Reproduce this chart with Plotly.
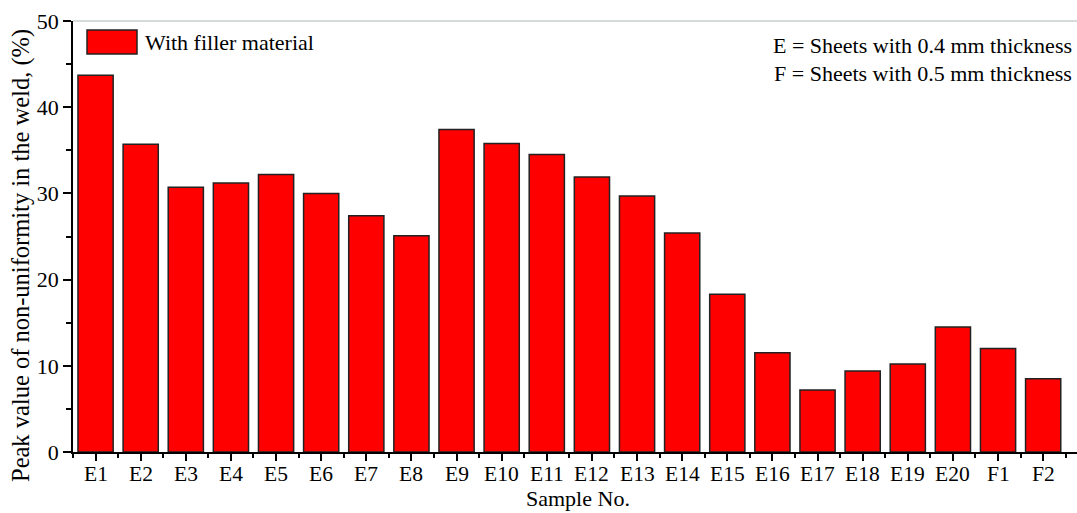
import plotly.graph_objects as go

# Samples and measured peak non-uniformity (%)
samples = ["E1", "E2", "E3", "E4", "E5", "E6", "E7", "E8", "E9", "E10", "E11",
           "E12", "E13", "E14", "E15", "E16", "E17", "E18", "E19", "E20", "F1", "F2"]
peak_values = [43.7, 35.7, 30.7, 31.2, 32.2, 30.0, 27.4, 25.1, 37.4, 35.8, 34.5,
               31.9, 29.7, 25.4, 18.3, 11.5, 7.2, 9.4, 10.2, 14.5, 12.0, 8.5]
y_ticks = [0, 10, 20, 30, 40, 50]

FONT = "Liberation Serif, Times New Roman, serif"
positions = list(range(len(samples)))

# plot area in pixels
L, R, T, B = 73, 1077, 21, 452
W, H = R - L, B - T


def px(x):
    return (x - L) / W


def py(y):
    return (B - y) / H


fig = go.Figure()
fig.add_trace(go.Bar(
    x=positions,
    y=peak_values,
    name="With filler material",
    marker=dict(color="#ff0000", line=dict(color="#222222", width=1.5)),
    width=0.78,
    showlegend=False,
))

# category labels set close under the tick marks
tick_labels = [
    dict(text=s, xref="x", yref="paper", x=p, y=py(474), xanchor="center",
         yanchor="middle", showarrow=False,
         font=dict(family=FONT, size=21.5, color="black"))
    for p, s in zip(positions, samples)
]

fig.update_layout(
    width=1077,
    height=513,
    margin=dict(l=L, r=1077 - R, t=T, b=513 - B),
    paper_bgcolor="white",
    plot_bgcolor="white",
    font=dict(family=FONT, color="black", size=22),
    xaxis=dict(
        range=[-0.5, 21.75],
        tickmode="array",
        tickvals=positions,
        showticklabels=False,
        ticks="outside",
        ticklen=7,
        tickwidth=1.5,
        tickcolor="black",
        showline=True,
        linecolor="black",
        linewidth=1.5,
        showgrid=False,
        zeroline=False,
        minor=dict(tick0=0.5, dtick=1, ticks="outside", ticklen=4,
                   tickwidth=1.5, tickcolor="black", showgrid=False),
    ),
    yaxis=dict(
        range=[0, 50],
        tickmode="array",
        tickvals=y_ticks,
        ticks="outside",
        ticklen=8,
        tickwidth=1.5,
        tickcolor="black",
        tickfont=dict(family=FONT, size=22, color="black"),
        showline=True,
        linecolor="black",
        linewidth=1.5,
        showgrid=False,
        zeroline=False,
        minor=dict(tickvals=[5, 15, 25, 35, 45], ticks="outside", ticklen=5,
                   tickwidth=1.5, tickcolor="black", showgrid=False),
    ),
    shapes=[
        # light top frame line
        dict(type="line", xref="paper", yref="paper", x0=0, x1=1, y0=1, y1=1,
             line=dict(color="#c8d0d0", width=1.5)),
        # legend swatch
        dict(type="rect", xref="paper", yref="paper",
             x0=px(87), x1=px(137), y0=py(54), y1=py(30),
             fillcolor="#ff0000", line=dict(color="#222222", width=1.5)),
    ],
    annotations=tick_labels + [
        dict(text="With filler material", xref="paper", yref="paper",
             x=px(143), y=py(42), xanchor="left", yanchor="middle",
             showarrow=False, font=dict(family=FONT, size=22, color="black")),
        dict(text="E = Sheets with 0.4 mm thickness", xref="paper", yref="paper",
             x=px(1074), y=py(46), xanchor="right", yanchor="middle",
             showarrow=False, font=dict(family=FONT, size=22, color="black")),
        dict(text="F = Sheets with 0.5 mm thickness", xref="paper", yref="paper",
             x=px(1074), y=py(73), xanchor="right", yanchor="middle",
             showarrow=False, font=dict(family=FONT, size=22, color="black")),
        # axis titles
        dict(text="Sample No.", xref="paper", yref="paper",
             x=px(578), y=py(513), xanchor="center", yanchor="bottom",
             showarrow=False, font=dict(family=FONT, size=22, color="black")),
        dict(text="Peak value of non-uniformity in the weld, (%)", xref="paper", yref="paper",
             x=px(21), y=py(256), xanchor="center", yanchor="middle", textangle=-90,
             showarrow=False, font=dict(family=FONT, size=24.5, color="black")),
    ],
)

fig.write_html("out.html")
